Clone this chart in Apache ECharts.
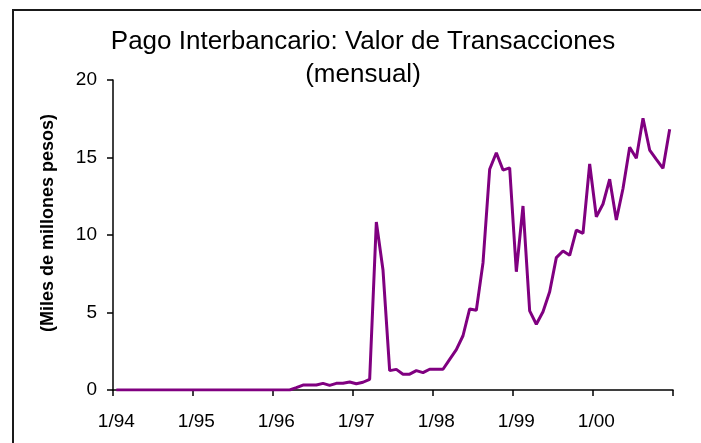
<!DOCTYPE html>
<html>
<head>
<meta charset="utf-8">
<title>Pago Interbancario</title>
<script src="https://cdn.jsdelivr.net/npm/echarts@6/dist/echarts.min.js"></script>
<style>
    html, body { margin: 0; padding: 0; background: #fff; }
    #main { width: 701px; height: 443px; }
</style>
</head>
<body>
<div id="main"></div>
<script>
// años y meses del eje (categorías mensuales 1/94 .. 12/00)
var years = ['94', '95', '96', '97', '98', '99', '00'];
var months = ['1', '2', '3', '4', '5', '6', '7', '8', '9', '10', '11', '12'];
var categories = [];
years.forEach(function (y) {
    months.forEach(function (m) {
        categories.push(m + '/' + y);
    });
});

// valor de transacciones, miles de millones de pesos
var valores = [
    0, 0, 0, 0, 0, 0, 0, 0, 0, 0, 0, 0,                                  // 1994
    0, 0, 0, 0, 0, 0, 0, 0, 0, 0, 0, 0,                                  // 1995
    0, 0, 0, 0.15, 0.32, 0.32, 0.32, 0.43, 0.3, 0.43, 0.43, 0.52,       // 1996
    0.4, 0.5, 0.69, 10.84, 7.74, 1.25, 1.33, 1.02, 1.02, 1.25, 1.12, 1.34, // 1997
    1.34, 1.34, 1.98, 2.6, 3.5, 5.23, 5.15, 8.2, 14.24, 15.31, 14.19, 14.33, // 1998
    7.63, 11.87, 5.1, 4.24, 5.05, 6.34, 8.54, 8.97, 8.69, 10.32, 10.1, 14.58, // 1999
    11.18, 12.0, 13.6, 10.97, 13.0, 15.66, 14.95, 17.53, 15.48, 14.88, 14.3, 16.82 // 2000
];

var yTicks = { min: 0, max: 20, step: 5 };

var FONT = '"Liberation Sans", Arial, sans-serif';

var chart = echarts.init(document.getElementById('main'), null, { renderer: 'canvas' });

var option = {
    backgroundColor: '#fff',
    animation: false,
    graphic: [
        // marco exterior
        {
            type: 'rect',
            shape: { x: 13, y: 10, width: 720, height: 460 },
            style: { fill: 'none', stroke: '#1a1a1a', lineWidth: 2 },
            silent: true
        },
        {
            type: 'text',
            style: {
                x: 363, y: 42,
                text: 'Pago Interbancario: Valor de Transacciones',
                font: '26px ' + FONT,
                fill: '#000',
                align: 'center',
                verticalAlign: 'middle'
            }
        },
        {
            type: 'text',
            style: {
                x: 363, y: 75,
                text: '(mensual)',
                font: '26px ' + FONT,
                fill: '#000',
                align: 'center',
                verticalAlign: 'middle'
            }
        },
        {
            type: 'text',
            x: 48, y: 223,
            rotation: Math.PI / 2,
            style: {
                x: 0, y: 0,
                text: '(Miles de millones pesos)',
                font: 'bold 18px ' + FONT,
                fill: '#000',
                align: 'center',
                verticalAlign: 'middle'
            }
        }
    ],
    grid: {
        left: 113,
        right: 28,
        top: 80,
        bottom: 53,
        outerBoundsMode: 'none'
    },
    xAxis: {
        type: 'category',
        data: categories,
        boundaryGap: true,
        axisLine: { show: true, lineStyle: { color: '#000', width: 1.5 } },
        axisTick: { show: true, interval: 11, length: 6, lineStyle: { color: '#000', width: 1.5 } },
        axisLabel: {
            interval: 11,
            margin: 22,
            color: '#000',
            fontFamily: FONT,
            fontSize: 19
        },
        splitLine: { show: false }
    },
    yAxis: {
        type: 'value',
        min: yTicks.min,
        max: yTicks.max,
        interval: yTicks.step,
        axisLine: { show: true, lineStyle: { color: '#000', width: 1.5 } },
        axisTick: { show: true, length: 6, lineStyle: { color: '#000', width: 1.5 } },
        axisLabel: {
            margin: 16,
            color: '#000',
            fontFamily: FONT,
            fontSize: 19
        },
        splitLine: { show: false }
    },
    series: [{
        name: 'Valor',
        type: 'line',
        data: valores,
        symbol: 'none',
        lineStyle: { color: '#800080', width: 3 },
        itemStyle: { color: '#800080' }
    }]
};

chart.setOption(option);
</script>
</body>
</html>
